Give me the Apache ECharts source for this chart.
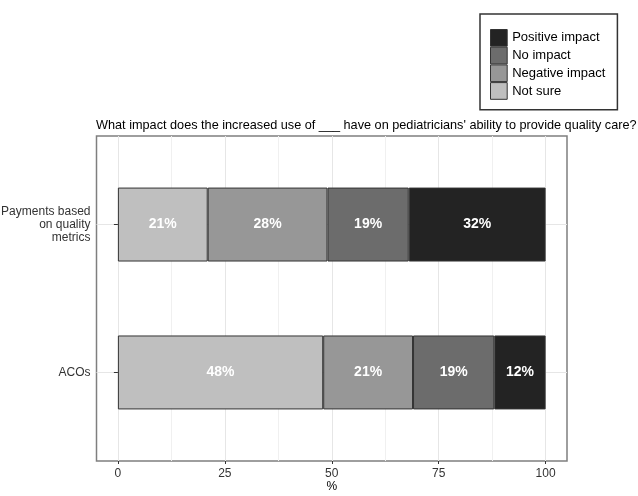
<!DOCTYPE html>
<html>
<head>
<meta charset="utf-8">
<script src="https://cdn.jsdelivr.net/npm/echarts@6/dist/echarts.min.js"></script>
<style>
  html, body { margin: 0; padding: 0; background: #fff; }
  #chart { width: 638px; height: 496px; }
</style>
</head>
<body>
<div id="chart"></div>
<script>
// categories top to bottom
var categories = ['Payments based\non quality\nmetrics', 'ACOs'];
var notSure = [21, 48];
var negative = [28, 21];
var noImpact = [19, 19];
var positive = [32, 12];
var xTicks = [0, 25, 50, 75, 100];
var xMinor = [12.5, 37.5, 62.5, 87.5];

var font = '"Liberation Sans", Arial, sans-serif';
var chart = echarts.init(document.getElementById('chart'));

function barSeries(name, data, color) {
  return {
    name: name,
    type: 'bar',
    stack: 'all',
    xAxisIndex: 2,
    yAxisIndex: 1,
    barWidth: '50%',
    data: data,
    itemStyle: { color: color, borderColor: '#333', borderWidth: 1 },
    label: {
      show: true,
      position: 'inside',
      formatter: '{c}%',
      color: '#fff',
      fontWeight: 'bold',
      fontSize: 14,
      fontFamily: font
    }
  };
}

var option = {
  backgroundColor: '#fff',
  animation: false,
  title: {
    text: "What impact does the increased use of ___ have on pediatricians' ability to provide quality care?",
    left: 96,
    top: 119,
    padding: 0,
    textStyle: { fontSize: 12.7, fontWeight: 'normal', color: '#000', fontFamily: font }
  },
  legend: {
    orient: 'vertical',
    left: 480,
    top: 14,
    padding: [15, 12, 10, 10],
    itemWidth: 16.7,
    itemHeight: 16.7,
    itemGap: 0,
    icon: 'rect',
    itemStyle: { borderColor: '#333', borderWidth: 1 },
    borderColor: '#333',
    borderWidth: 1.5,
    data: ['Positive impact', 'No impact', 'Negative impact', 'Not sure'],
    textStyle: { fontSize: 13, lineHeight: 16.7, color: '#000', fontFamily: font }
  },
  grid: [
    // panel
    { left: 96.5, right: 71, top: 136, bottom: 35, outerBoundsMode: 'none', containLabel: false, show: true, borderColor: '#7f7f7f', borderWidth: 1.5, backgroundColor: 'transparent' },
    // bars
    { left: 96.5, right: 71, top: 150.6, bottom: 49.6, outerBoundsMode: 'none', containLabel: false }
  ],
  xAxis: [
    {
      gridIndex: 0, type: 'value', min: -5, max: 105,
      axisLine: { show: false },
      axisTick: { show: true, customValues: xTicks, length: 3, lineStyle: { color: '#333' } },
      axisLabel: { customValues: xTicks, color: '#333', fontSize: 12, margin: 7, fontFamily: font },
      splitLine: { show: true, lineStyle: { color: '#e6e6e6', width: 1 } },
      name: '%', nameLocation: 'middle', nameGap: 20, nameMoveOverlap: false,
      nameTextStyle: { color: '#000', fontSize: 12, fontFamily: font }
    },
    {
      gridIndex: 0, type: 'value', min: -5, max: 105, position: 'top',
      axisLine: { show: false },
      axisTick: { show: false, customValues: xMinor },
      axisLabel: { show: false },
      splitLine: { show: true, lineStyle: { color: '#f0f0f0', width: 1 } }
    },
    {
      gridIndex: 1, type: 'value', min: -5, max: 105, show: false,
      splitLine: { show: false }
    }
  ],
  yAxis: [
    {
      gridIndex: 0, type: 'value', min: 0.4, max: 2.6, inverse: true,
      axisLine: { show: false },
      axisTick: { show: false, customValues: [1, 2] },
      axisLabel: { show: false },
      splitLine: { show: true, lineStyle: { color: '#e6e6e6', width: 1 } }
    },
    {
      gridIndex: 1, type: 'category', inverse: true, data: categories,
      axisLine: { show: false },
      axisTick: { show: true, alignWithLabel: true, length: 4, lineStyle: { color: '#333' } },
      axisLabel: { color: '#333', fontSize: 12, lineHeight: 13, margin: 6, fontFamily: font },
      splitLine: { show: false }
    }
  ],
  series: [
    barSeries('Not sure', notSure, '#bfbfbf'),
    barSeries('Negative impact', negative, '#979797'),
    barSeries('No impact', noImpact, '#6c6c6c'),
    barSeries('Positive impact', positive, '#232323')
  ]
};

chart.setOption(option);
</script>
</body>
</html>
